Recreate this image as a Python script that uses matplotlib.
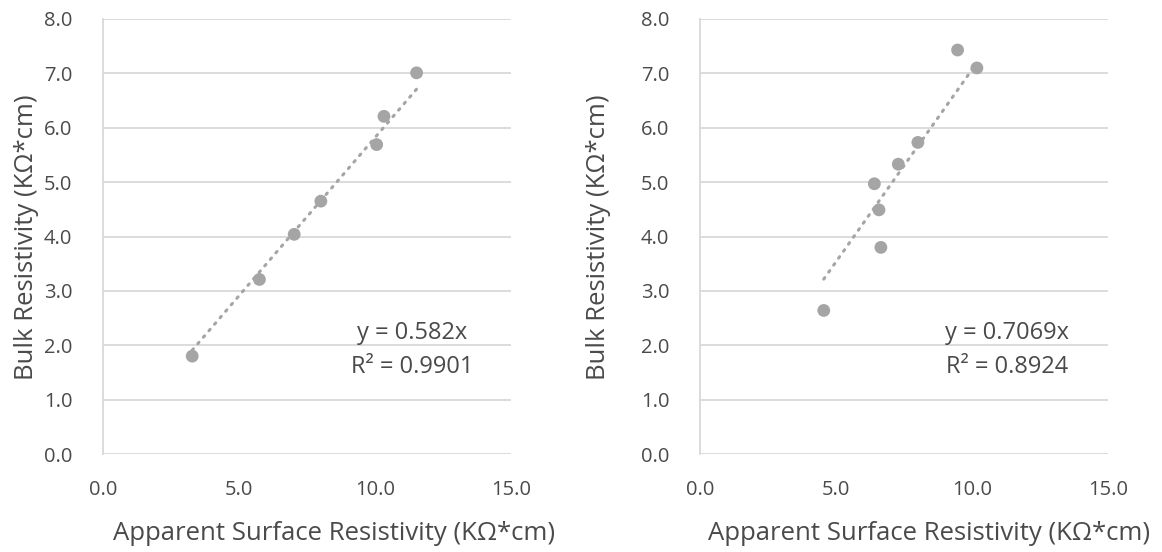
import numpy as np
import matplotlib.pyplot as plt

plt.rcParams['font.family'] = ['Open Sans', 'DejaVu Sans']

# левый график
x_left = [3.28, 5.75, 7.03, 8.01, 10.06, 10.33, 11.53]
y_left = [1.80, 3.21, 4.04, 4.65, 5.69, 6.21, 7.01]
slope_left = 0.582
r2_left = "0.9901"

# правый график
x_right = [4.55, 6.41, 6.58, 6.65, 7.29, 8.01, 9.47, 10.18]
y_right = [2.64, 4.97, 4.49, 3.80, 5.33, 5.73, 7.43, 7.10]
slope_right = 0.7069
r2_right = "0.8924"

x_ticks = [0, 5, 10, 15]
y_ticks = [0, 1, 2, 3, 4, 5, 6, 7, 8]

x_title = "Apparent Surface Resistivity (KΩ*cm)"
y_title = "Bulk Resistivity (KΩ*cm)"

W, H = 1162, 552
grey = "#a5a5a5"
grid = "#d9d9d9"
txt = "#4a4a4a"

fig = plt.figure(figsize=(W / 100, H / 100), dpi=100)


def draw_panel(left_px, xs, ys, slope, r2, eq_x, ylab_x, xlab_x):
    ax = fig.add_axes([left_px / W, (H - 454) / H, 408 / W, 435 / H])
    ax.set_xlim(0, 15)
    ax.set_ylim(0, 8)
    ax.set_xticks(x_ticks)
    ax.set_yticks(y_ticks)
    ax.set_xticklabels([f"{v:.1f}" for v in x_ticks])
    ax.set_yticklabels([f"{v:.1f}" for v in y_ticks])
    ax.tick_params(length=0, labelsize=14.5, colors=txt)
    ax.tick_params(axis="y", pad=22)
    ax.tick_params(axis="x", pad=19)
    ax.grid(axis="y", color=grid, linewidth=1.3)
    ax.set_axisbelow(True)
    for s in ["top", "right", "bottom"]:
        ax.spines[s].set_visible(False)
    ax.spines["left"].set_color(grid)
    ax.spines["left"].set_linewidth(1.3)

    # линия тренда через начало координат
    tx = np.array([min(xs), max(xs)])
    ax.plot(tx, slope * tx, color=grey, linewidth=2.2,
            linestyle=(0, (0.6, 2.2)), dash_capstyle="round", zorder=2)
    ax.scatter(xs, ys, s=85, color=grey, edgecolors="none", zorder=3)

    fig.text(eq_x / W, 1 - 333 / H, f"y = {slope}x", ha="center", va="center",
             fontsize=17, color=txt)
    fig.text(eq_x / W, 1 - 367 / H, f"R² = {r2}", ha="center", va="center",
             fontsize=17, color=txt)
    fig.text(ylab_x / W, 1 - 237 / H, y_title, rotation=90, ha="center",
             va="center", fontsize=18.5, color=txt)
    fig.text(xlab_x / W, 1 - 533 / H, x_title, ha="center", va="center",
             fontsize=18.5, color=txt)
    return ax


draw_panel(103, x_left, y_left, slope_left, r2_left, 412, 27, 334)
draw_panel(700, x_right, y_right, slope_right, r2_right, 1007, 598, 929)

fig.savefig("out.png", dpi=100, facecolor="white")
